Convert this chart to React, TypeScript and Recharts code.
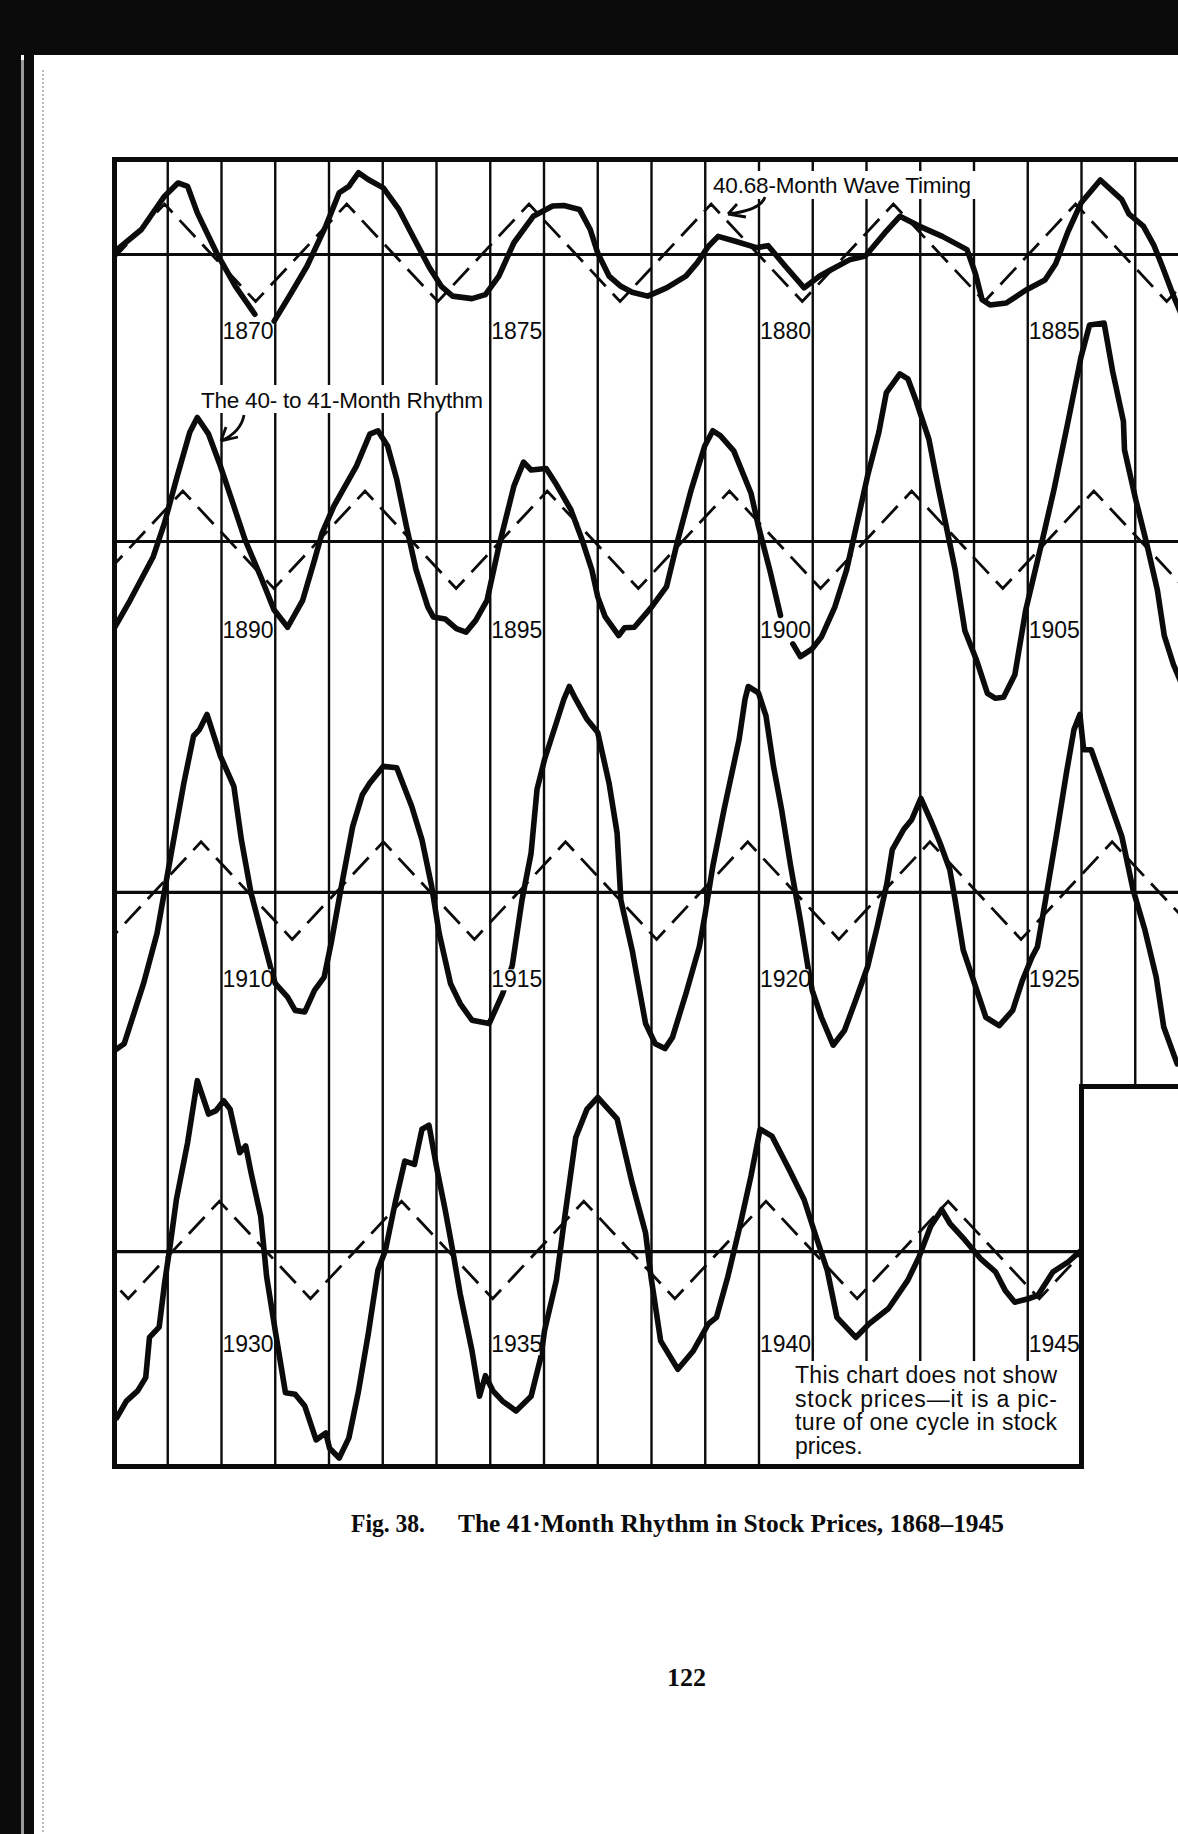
import React from 'react'
import { LineChart, Line, XAxis, YAxis, ReferenceLine, ReferenceDot } from 'recharts'

const PAGE_W = 1178
const PAGE_H = 1834
const LEFT = 114
const YEAR_PX = 53.75
const FRAME_TOP = 159
const FRAME_BOTTOM = 1466
const STEP_Y = 1086
const UNIT = 49
const INK = '#0b0b0b'
const SANS = '"Liberation Sans", Arial, sans-serif'
const SERIF = '"Liberation Serif", "Times New Roman", serif'

type Pair = [number, number | null]

// the 41-month cycle in stock prices, [year, value]; null = break in the line
const curve1868: Pair[] = [
  [1868.0, 0.05], [1868.51, 0.51], [1868.94, 1.19], [1869.19, 1.46], [1869.37, 1.39],
  [1869.55, 0.85], [1869.91, 0.03], [1870.26, -0.65], [1870.62, -1.22], [1870.8, null],
  [1870.98, -1.36], [1871.3, -0.78], [1871.59, -0.24], [1871.94, 0.58], [1872.19, 1.26],
  [1872.37, 1.39], [1872.55, 1.67], [1872.73, 1.53], [1873.01, 1.36], [1873.3, 0.92],
  [1873.59, 0.31], [1873.87, -0.27], [1874.09, -0.65], [1874.3, -0.85], [1874.66, -0.9],
  [1874.91, -0.82], [1875.16, -0.44], [1875.44, 0.24], [1875.8, 0.78], [1876.16, 0.99],
  [1876.37, 1.0], [1876.66, 0.92], [1876.86, 0.51], [1877.0, 0.03], [1877.21, -0.44],
  [1877.43, -0.65], [1877.64, -0.77], [1877.93, -0.85], [1878.28, -0.68], [1878.64, -0.44],
  [1878.85, -0.17], [1879.06, 0.17], [1879.24, 0.37], [1879.56, 0.27], [1879.95, 0.14],
  [1880.17, 0.18], [1880.49, -0.24], [1880.84, -0.68], [1881.13, -0.44], [1881.34, -0.31],
  [1881.7, -0.1], [1881.98, -0.03], [1882.34, 0.44], [1882.62, 0.78], [1882.98, 0.58],
  [1883.41, 0.37], [1883.87, 0.1], [1884.03, -0.4], [1884.15, -0.92], [1884.3, -1.03],
  [1884.6, -0.99], [1884.96, -0.73], [1885.32, -0.52], [1885.52, -0.19], [1885.75, 0.47],
  [1885.99, 1.05], [1886.35, 1.52], [1886.75, 1.12], [1886.88, 0.83], [1887.15, 0.58],
  [1887.35, 0.18], [1887.51, -0.26], [1887.71, -0.84], [1887.91, -1.36],
]

const curve1888: Pair[] = [
  [1888.0, -1.78], [1888.3, -1.2], [1888.73, -0.31], [1888.94, 0.38], [1889.16, 1.27],
  [1889.41, 2.23], [1889.55, 2.53], [1889.76, 2.19], [1889.98, 1.54], [1890.23, 0.72],
  [1890.44, 0.03], [1890.73, -0.72], [1890.98, -1.4], [1891.23, -1.75], [1891.51, -1.2],
  [1891.73, -0.38], [1891.87, 0.17], [1892.09, 0.72], [1892.51, 1.54], [1892.76, 2.19],
  [1892.91, 2.26], [1893.09, 1.95], [1893.26, 1.27], [1893.44, 0.31], [1893.62, -0.58],
  [1893.84, -1.34], [1893.94, -1.54], [1894.16, -1.58], [1894.37, -1.78], [1894.55, -1.85],
  [1894.73, -1.61], [1894.94, -1.2], [1895.16, -0.1], [1895.44, 1.13], [1895.62, 1.62],
  [1895.76, 1.46], [1896.04, 1.49], [1896.21, 1.2], [1896.5, 0.65], [1896.71, 0.03],
  [1896.89, -0.58], [1897.0, -1.13], [1897.14, -1.54], [1897.39, -1.92], [1897.5, -1.76],
  [1897.68, -1.75], [1898.0, -1.34], [1898.28, -0.92], [1898.49, 0.03], [1898.74, 1.06],
  [1898.99, 1.95], [1899.14, 2.26], [1899.28, 2.16], [1899.53, 1.85], [1899.85, 0.99],
  [1899.99, 0.31], [1900.2, -0.58], [1900.4, -1.51], [1900.5, null], [1900.63, -2.09],
  [1900.77, -2.35], [1900.99, -2.19], [1901.16, -1.95], [1901.41, -1.34], [1901.63, -0.58],
  [1901.84, 0.45], [1902.02, 1.34], [1902.23, 2.23], [1902.37, 3.04], [1902.62, 3.42],
  [1902.77, 3.32], [1902.91, 2.91], [1903.16, 2.09], [1903.33, 1.13], [1903.51, 0.17],
  [1903.65, -0.58], [1903.83, -1.82], [1904.05, -2.43], [1904.25, -3.1], [1904.4, -3.2],
  [1904.55, -3.18], [1904.76, -2.72], [1904.96, -1.41], [1905.26, -0.03], [1905.49, 1.07],
  [1905.75, 2.45], [1905.99, 3.76], [1906.15, 4.42], [1906.42, 4.46], [1906.58, 3.47],
  [1906.78, 2.45], [1906.8, 1.87], [1907.01, 0.85], [1907.21, -0.03], [1907.41, -0.98],
  [1907.54, -1.92], [1907.71, -2.51], [1907.9, -3.0],
]

const curve1908: Pair[] = [
  [1908.01, -3.23], [1908.19, -3.09], [1908.55, -1.86], [1908.8, -0.84], [1909.01, 0.46],
  [1909.3, 2.23], [1909.48, 3.19], [1909.59, 3.32], [1909.73, 3.63], [1909.98, 2.78],
  [1910.23, 2.16], [1910.37, 1.07], [1910.55, -0.02], [1910.73, -0.77], [1910.91, -1.52],
  [1911.0, -1.86], [1911.23, -2.14], [1911.37, -2.41], [1911.55, -2.44], [1911.73, -2.0],
  [1911.91, -1.73], [1912.05, -0.98], [1912.23, 0.12], [1912.44, 1.34], [1912.62, 1.99],
  [1912.76, 2.23], [1913.01, 2.57], [1913.26, 2.54], [1913.54, 1.75], [1913.73, 1.07],
  [1913.91, 0.12], [1914.05, -0.84], [1914.26, -1.86], [1914.44, -2.27], [1914.66, -2.61],
  [1914.98, -2.68], [1915.23, -2.07], [1915.41, -1.49], [1915.59, -0.16], [1915.76, 0.8],
  [1915.87, 2.1], [1916.01, 2.71], [1916.23, 3.46], [1916.37, 3.94], [1916.47, 4.2],
  [1916.59, 3.94], [1916.8, 3.53], [1917.0, 3.26], [1917.21, 2.23], [1917.36, 1.21],
  [1917.43, -0.16], [1917.64, -1.18], [1917.89, -2.68], [1918.07, -3.09], [1918.25, -3.19],
  [1918.39, -2.96], [1918.64, -2.07], [1918.89, -1.11], [1919.0, -0.43], [1919.14, 0.53],
  [1919.35, 1.69], [1919.63, 3.12], [1919.74, 3.94], [1919.8, 4.2], [1919.99, 4.07],
  [1920.13, 3.6], [1920.27, 2.57], [1920.42, 1.69], [1920.59, 0.53], [1920.77, -0.57],
  [1920.91, -1.52], [1920.99, -2.0], [1921.16, -2.55], [1921.38, -3.12], [1921.59, -2.82],
  [1921.8, -2.2], [1922.02, -1.52], [1922.2, -0.7], [1922.38, 0.18], [1922.48, 0.87],
  [1922.69, 1.28], [1922.84, 1.48], [1923.01, 1.92], [1923.19, 1.48], [1923.37, 1.0],
  [1923.55, 0.46], [1923.65, -0.16], [1923.8, -1.18], [1923.97, -1.73], [1924.22, -2.55],
  [1924.47, -2.72], [1924.72, -2.41], [1924.9, -1.8], [1925.08, -1.32], [1925.18, -1.11],
  [1925.33, -0.16], [1925.54, 1.21], [1925.72, 2.44], [1925.86, 3.32], [1925.97, 3.63],
  [1926.04, 2.91], [1926.18, 2.91], [1926.4, 2.23], [1926.75, 1.14], [1926.96, 0.05],
  [1927.18, -0.77], [1927.39, -1.73], [1927.53, -2.75], [1927.78, -3.5],
]

const curve1928: Pair[] = [
  [1928.05, -3.39], [1928.23, -3.05], [1928.44, -2.84], [1928.59, -2.57], [1928.66, -1.75],
  [1928.84, -1.54], [1928.94, -0.65], [1929.05, 0.17], [1929.16, 1.06], [1929.37, 2.23],
  [1929.55, 3.49], [1929.76, 2.81], [1929.9, 2.88], [1930.04, 3.08], [1930.16, 2.91],
  [1930.34, 2.02], [1930.45, 2.16], [1930.55, 1.61], [1930.73, 0.72], [1930.84, -0.51],
  [1931.01, -1.68], [1931.19, -2.88], [1931.37, -2.91], [1931.55, -3.15], [1931.76, -3.84],
  [1931.94, -3.7], [1932.01, -4.01], [1932.19, -4.21], [1932.37, -3.8], [1932.55, -2.84],
  [1932.73, -1.68], [1932.91, -0.38], [1933.05, 0.03], [1933.23, 0.99], [1933.41, 1.85],
  [1933.59, 1.78], [1933.73, 2.5], [1933.86, 2.58], [1934.01, 1.68], [1934.16, 0.86],
  [1934.3, 0.03], [1934.44, -0.86], [1934.66, -2.02], [1934.8, -2.95], [1934.91, -2.53],
  [1935.05, -2.84], [1935.23, -3.05], [1935.48, -3.25], [1935.76, -2.95], [1935.94, -2.16],
  [1936.01, -1.61], [1936.23, -0.58], [1936.37, 0.58], [1936.59, 2.33], [1936.8, 2.91],
  [1937.0, 3.15], [1937.36, 2.71], [1937.64, 1.4], [1937.89, 0.38], [1937.99, -0.51],
  [1938.17, -1.82], [1938.49, -2.4], [1938.78, -2.02], [1939.06, -1.47], [1939.21, -1.34],
  [1939.42, -0.51], [1939.63, 0.45], [1939.85, 1.54], [1940.02, 2.5], [1940.24, 2.36],
  [1940.56, 1.68], [1940.84, 1.06], [1941.06, 0.31], [1941.27, -0.38], [1941.45, -1.34],
  [1941.8, -1.75], [1942.05, -1.47], [1942.41, -1.16], [1942.77, -0.58], [1942.98, -0.1],
  [1943.19, 0.51], [1943.4, 0.86], [1943.55, 0.58], [1943.83, 0.24], [1944.12, -0.14],
  [1944.4, -0.41], [1944.58, -0.79], [1944.76, -1.03], [1945.01, -0.96], [1945.19, -0.89],
  [1945.47, -0.41], [1945.75, -0.21], [1946.0, 0.03],
]

// 40.68-month wave timing: crests and troughs of the ideal wave
const timing1868: Pair[] = [
  [1867.245, -0.96], [1868.94, 1.03], [1870.635, -0.96], [1872.33, 1.03], [1874.025, -0.96],
  [1875.72, 1.03], [1877.415, -0.96], [1879.11, 1.03], [1880.805, -0.96], [1882.5, 1.03],
  [1884.195, -0.96], [1885.89, 1.03], [1887.585, -0.96], [1889.28, 1.03],
]
const timing1888: Pair[] = [
  [1887.585, -0.96], [1889.28, 1.03], [1890.975, -0.96], [1892.67, 1.03], [1894.365, -0.96],
  [1896.06, 1.03], [1897.755, -0.96], [1899.45, 1.03], [1901.145, -0.96], [1902.84, 1.03],
  [1904.535, -0.96], [1906.23, 1.03], [1907.925, -0.96], [1909.62, 1.03],
]
const timing1908: Pair[] = [
  [1907.925, -0.96], [1909.62, 1.03], [1911.315, -0.96], [1913.01, 1.03], [1914.705, -0.96],
  [1916.4, 1.03], [1918.095, -0.96], [1919.79, 1.03], [1921.485, -0.96], [1923.18, 1.03],
  [1924.875, -0.96], [1926.57, 1.03], [1928.265, -0.96], [1929.96, 1.03],
]
const timing1928: Pair[] = [
  [1926.57, 1.03], [1928.265, -0.96], [1929.96, 1.03], [1931.655, -0.96], [1933.35, 1.03],
  [1935.045, -0.96], [1936.74, 1.03], [1938.435, -0.96], [1940.13, 1.03], [1941.825, -0.96],
  [1943.52, 1.03], [1945.215, -0.96], [1946.91, 1.03],
]

const labels1868 = [1870, 1875, 1880, 1885]
const labels1888 = [1890, 1895, 1900, 1905]
const labels1908 = [1910, 1915, 1920, 1925]
const labels1928 = [1930, 1935, 1940, 1945]

// yearly rulings, counted in years from the left edge of the frame
const upperRulings = [1, 2, 3, 4, 5, 6, 7, 8, 9, 10, 11, 12, 13, 14, 15, 16, 17, 18, 19]
const lowerRulings = [1, 2, 3, 4, 5, 6, 7, 8, 9, 10, 11, 12, 13, 14, 15, 16, 17]

const toPts = (arr: Pair[]) => arr.map(([t, v]) => ({ t, v }))

const rows = [
  { start: 1868, span: 21, zero: 254.5, curve: curve1868, timing: timing1868, labels: labels1868, labelAt: -1.72 },
  { start: 1888, span: 21, zero: 541.5, curve: curve1888, timing: timing1888, labels: labels1888, labelAt: -1.97 },
  { start: 1908, span: 21, zero: 892.3, curve: curve1908, timing: timing1908, labels: labels1908, labelAt: -1.94 },
  { start: 1928, span: 18, zero: 1251.7, curve: curve1928, timing: timing1928, labels: labels1928, labelAt: -2.05 },
]

type RowSpec = (typeof rows)[number]

const noMargin = { top: 0, right: 0, bottom: 0, left: 0 }

// year figure on a white patch, the way the lettering breaks the curve in print
function YearLabel(props: any) {
  const { viewBox, yearText } = props
  if (!viewBox) return null
  return (
    <g>
      <rect x={viewBox.x + 2.5} y={viewBox.y - 18} width={47} height={21} fill="#fff" />
      <text x={viewBox.x + 1} y={viewBox.y} fontSize={23} fontFamily={SANS} fill={INK}>
        {yearText}
      </text>
    </g>
  )
}

function Rulings({ top, height, marks }: { top: number; height: number; marks: number[] }) {
  return (
    <div style={{ position: 'absolute', left: LEFT, top }}>
      <LineChart width={21 * YEAR_PX} height={height} margin={noMargin} data={marks.map((m) => ({ m }))}>
        <XAxis type="number" dataKey="m" domain={[0, 21]} allowDataOverflow hide />
        <YAxis type="number" domain={[0, 1]} allowDataOverflow hide />
        {marks.map((m) => (
          <ReferenceLine key={m} x={m} stroke={INK} strokeWidth={2.4} />
        ))}
      </LineChart>
    </div>
  )
}

function rowDomain(row: RowSpec): [number, number] {
  return [-(FRAME_BOTTOM - row.zero) / UNIT, (row.zero - FRAME_TOP) / UNIT]
}

function Row({ row }: { row: RowSpec }) {
  return (
    <div style={{ position: 'absolute', left: LEFT, top: FRAME_TOP }}>
      <LineChart width={row.span * YEAR_PX} height={FRAME_BOTTOM - FRAME_TOP} margin={noMargin}>
        <XAxis type="number" dataKey="t" domain={[row.start, row.start + row.span]} allowDataOverflow hide />
        <YAxis type="number" domain={rowDomain(row)} allowDataOverflow hide />
        <ReferenceLine y={0} stroke={INK} strokeWidth={3.2} />
        <Line
          data={toPts(row.timing)}
          dataKey="v"
          type="linear"
          stroke={INK}
          strokeWidth={2.8}
          strokeDasharray="23 10.4"
          strokeDashoffset={11.5}
          dot={false}
          activeDot={false}
          isAnimationActive={false}
        />
        <Line
          data={toPts(row.curve)}
          dataKey="v"
          type="linear"
          stroke={INK}
          strokeWidth={5.6}
          strokeLinejoin="round"
          strokeLinecap="round"
          dot={false}
          activeDot={false}
          isAnimationActive={false}
        />
      </LineChart>
    </div>
  )
}

// year figures drawn in a layer above all four rows
function RowLabels({ row }: { row: RowSpec }) {
  return (
    <div style={{ position: 'absolute', left: LEFT, top: FRAME_TOP }}>
      <LineChart width={row.span * YEAR_PX} height={FRAME_BOTTOM - FRAME_TOP} margin={noMargin} data={toPts(row.curve)}>
        <XAxis type="number" dataKey="t" domain={[row.start, row.start + row.span]} allowDataOverflow hide />
        <YAxis type="number" domain={rowDomain(row)} allowDataOverflow hide />
        {row.labels.map((yr) => (
          <ReferenceDot
            key={yr}
            x={yr}
            y={row.labelAt}
            r={0}
            fill="none"
            stroke="none"
            label={<YearLabel yearText={String(yr)} />}
          />
        ))}
      </LineChart>
    </div>
  )
}

const bar = (left: number, top: number, width: number, height: number, color = INK) => (
  <div style={{ position: 'absolute', left, top, width, height, background: color }} />
)

export default function App() {
  const rightOfLast = LEFT + 18 * YEAR_PX
  return (
    <div
      style={{
        position: 'fixed',
        left: 0,
        top: 0,
        width: PAGE_W,
        height: PAGE_H,
        overflow: 'hidden',
        background: '#fff',
        fontFamily: SANS,
      }}
    >
      {/* scan edges */}
      {bar(0, 0, PAGE_W, 55)}
      {bar(0, 0, 21, PAGE_H)}
      {bar(21, 60, 3, PAGE_H, '#9a9a9a')}
      {bar(24, 0, 10, PAGE_H)}
      <div style={{ position: 'absolute', left: 42, top: 70, width: 0, height: PAGE_H, borderLeft: '2px dotted #bbb' }} />

      <Rulings top={FRAME_TOP} height={STEP_Y - FRAME_TOP} marks={upperRulings} />
      <Rulings top={STEP_Y} height={FRAME_BOTTOM - STEP_Y} marks={lowerRulings} />

      {/* white grounds under the lettering */}
      {bar(198, 385, 290, 28, '#fff')}
      {bar(709, 171, 267, 28, '#fff')}
      {bar(786, 1361, rightOfLast - 786, 103, '#fff')}

      {rows.map((row) => (
        <Row key={row.start} row={row} />
      ))}
      {rows.map((row) => (
        <RowLabels key={row.start} row={row} />
      ))}

      {/* frame */}
      {bar(LEFT - 2.5, FRAME_TOP - 2.5, PAGE_W, 5)}
      {bar(LEFT - 2.5, FRAME_TOP - 2.5, 5, FRAME_BOTTOM - FRAME_TOP + 5)}
      {bar(LEFT - 2.5, FRAME_BOTTOM - 2.5, rightOfLast - LEFT + 5, 5)}
      {bar(rightOfLast - 2.5, STEP_Y - 2.5, 5, FRAME_BOTTOM - STEP_Y + 5)}
      {bar(rightOfLast - 2.5, STEP_Y - 2.5, PAGE_W, 5)}

      <svg width={PAGE_W} height={PAGE_H} style={{ position: 'absolute', left: 0, top: 0 }}>
        <text x={713} y={193} fontSize={22.5} fontFamily={SANS} fill={INK} textLength={258} lengthAdjust="spacing">
          40.68-Month Wave Timing
        </text>
        <path d="M765 197 Q761 210 728 214 M728 214 L746 217 M728 214 L737 204" stroke={INK} strokeWidth={2.8} fill="none" />
        <text x={201} y={408} fontSize={22.5} fontFamily={SANS} fill={INK} textLength={282} lengthAdjust="spacing">
          The 40- to 41-Month Rhythm
        </text>
        <path d="M244 415 Q241 432 221 441 M221 441 L238 437 M221 441 L226 427" stroke={INK} strokeWidth={2.8} fill="none" />
        <text x={795} y={1383} fontSize={23} fontFamily={SANS} fill={INK} textLength={262} lengthAdjust="spacing">
          This chart does not show
        </text>
        <text x={795} y={1406.5} fontSize={23} fontFamily={SANS} fill={INK} textLength={262} lengthAdjust="spacing">
          stock prices—it is a pic-
        </text>
        <text x={795} y={1430} fontSize={23} fontFamily={SANS} fill={INK} textLength={262} lengthAdjust="spacing">
          ture of one cycle in stock
        </text>
        <text x={795} y={1453.5} fontSize={23} fontFamily={SANS} fill={INK}>
          prices.
        </text>
        <text x={351} y={1532} fontSize={26} fontWeight="bold" fontFamily={SERIF} fill={INK} textLength={74} lengthAdjust="spacingAndGlyphs">
          Fig. 38.
        </text>
        <text x={458} y={1532} fontSize={26} fontWeight="bold" fontFamily={SERIF} fill={INK} textLength={546} lengthAdjust="spacingAndGlyphs">
          The 41·Month Rhythm in Stock Prices, 1868–1945
        </text>
        <text x={667} y={1686} fontSize={26} fontWeight="bold" fontFamily={SERIF} fill={INK}>
          122
        </text>
      </svg>
    </div>
  )
}
